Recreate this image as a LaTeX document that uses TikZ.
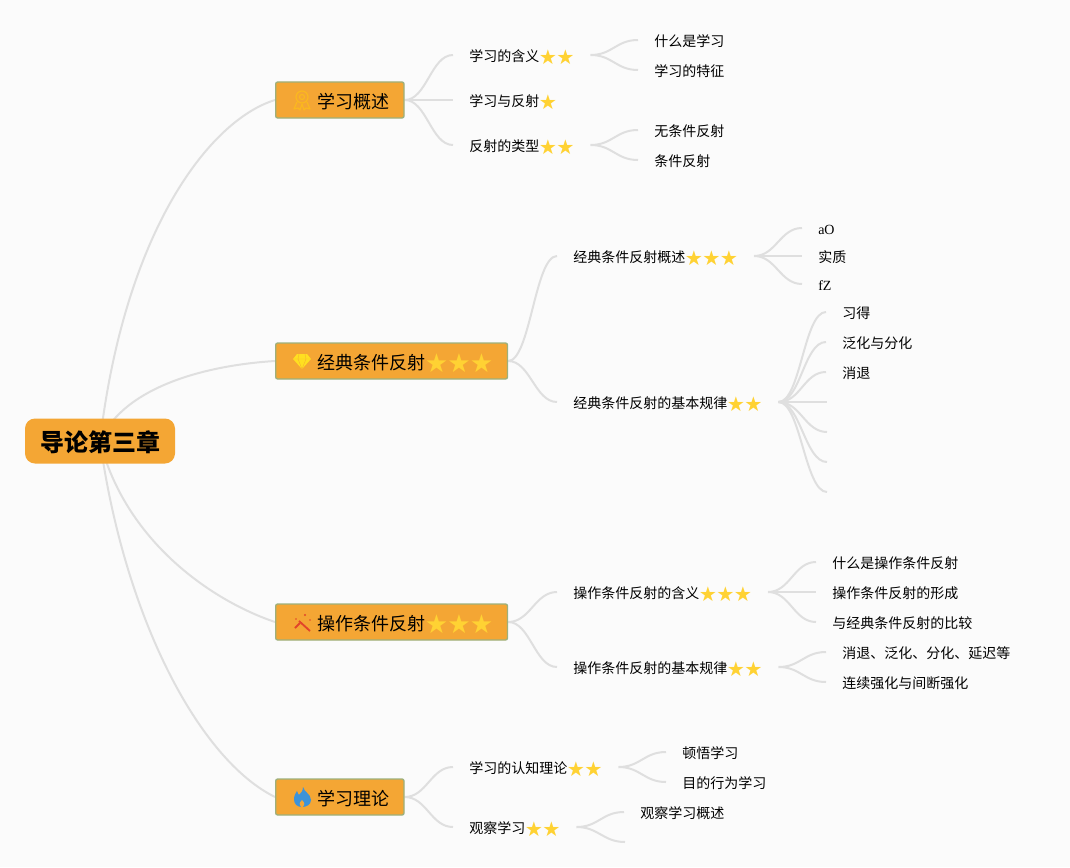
\documentclass[tikz,border=0pt]{standalone}
\usepackage{fontspec}
\setmainfont{Liberation Serif}
\newfontfamily\cjk{Noto Sans CJK SC}
\newfontfamily\starfont[Scale=1.45]{DejaVu Sans}
\usetikzlibrary{backgrounds}
\definecolor{pagebg}{HTML}{FBFBFB}
\definecolor{boxfill}{HTML}{F4A634}
\definecolor{boxline}{HTML}{9DB07C}
\definecolor{linegray}{HTML}{DFDFDF}
\definecolor{stargold}{HTML}{FFD233}
\definecolor{medalgold}{HTML}{FBB81E}
\definecolor{gemyellow}{HTML}{FFDF20}
\definecolor{wandred}{HTML}{E2452A}
\definecolor{fireblue}{HTML}{3D93D9}
\newcommand{\mystars}[1]{\foreach \n in {1,...,#1}{\makebox[1.25em]{\smash{\raisebox{-.17em}{\textcolor{stargold}{\starfont ★}}}}}}
\tikzset{
    root/.style={fill=boxfill, rounded corners=7.5pt, minimum width=112.5pt, minimum height=33.75pt, inner sep=0pt, text height=16pt, text depth=0pt, font=\cjk\fontsize{18}{18}\selectfont\bfseries},
    topic/.style={anchor=west, draw=boxline, line width=1pt, fill=boxfill, rounded corners=1.5pt, minimum height=27pt, inner xsep=11pt, inner ysep=0pt, text height=12.4pt, text depth=0pt, font=\cjk\fontsize{13.5}{13.5}\selectfont, execute at begin node=\hspace*{20.25pt}},
    leaf/.style={anchor=west, inner xsep=12pt, inner ysep=0pt, text height=10.2pt, text depth=0pt, font=\cjk\fontsize{10.5}{10.5}\selectfont},
    branch/.style={draw=linegray, line width=1.5pt, to path={.. controls +(22,0) and +(-22,0) .. (\tikztotarget)}},
    trunk/.style={draw=linegray, line width=1.5pt},
    medal/.pic={
        \draw[medalgold, line width=.9pt] (0,-3) circle (6);
        \draw[medalgold, line width=.9pt] (0,-3) circle (2.5);
        \draw[medalgold, line width=.9pt, line join=round] (-5,2) -- (-8,9) -- (-4,8) -- (-2,10) -- (0,4) -- (2,10) -- (4,8) -- (8,9) -- (5,2);
    },
    gem/.pic={
        \fill[gemyellow] (-5,-7) -- (5,-7) -- (9,-2) -- (0,8) -- (-9,-2) -- cycle;
        \draw[boxfill, line width=.35pt, opacity=.7] (-9,-2) -- (9,-2) (-3,-7) -- (-4,-2) -- (0,8) -- (4,-2) -- (3,-7);
    },
    wand/.pic={
        \draw[wandred, line width=1.4pt] (-7,5) -- (-2,0);
        \draw[wandred, line width=1.4pt] (-3,-2) -- (8,8);
        \fill[wandred] (3,-8) circle (1.1) (-6,-4) circle (.8) (8,-3) circle (.8);
    },
    fire/.pic={
        \fill[fireblue] (1,-10) .. controls (2,-5) and (9,-3) .. (9,3) .. controls (9,8) and (4,10) .. (0,10) .. controls (-5,10) and (-8,7) .. (-8,2) .. controls (-8,-2) and (-6,-4) .. (-5,-6) .. controls (-4,-4) and (-4,-3) .. (-3,-2) .. controls (-1,-4) and (1,-6) .. (1,-10) -- cycle;
        \fill[boxfill] (-1,10) .. controls (-3,8) and (-3,6) .. (0,3) .. controls (3,6) and (3,8) .. (1,10) -- cycle;
    }
}
\begin{document}
\begin{tikzpicture}[x=.75pt, y=-.75pt]
    \node[root] (rootbox) at (100,441) {导论第三章};
    % topics
    \node[topic] (gaishu) at (275,100) {学习概述};
    \node[topic] (jingdian) at (275,361) {经典条件反射\mystars{3}};
    \node[topic] (caozuo) at (275,622) {操作条件反射\mystars{3}};
    \node[topic] (lilun) at (275,797) {学习理论};
    \pic at (302,100) {medal};
    \pic at (302,361) {gem};
    \pic at (302,623) {wand};
    \pic at (302,797) {fire};
    % second level
    \node[leaf] (hanyi) at (453,55) {学习的含义\mystars{2}};
    \node[leaf] (fanshe) at (453,100) {学习与反射\mystars{1}};
    \node[leaf] (leixing) at (453,145) {反射的类型\mystars{2}};
    \node[leaf] (jdgs) at (557,256) {经典条件反射概述\mystars{3}};
    \node[leaf] (jdgl) at (557,402) {经典条件反射的基本规律\mystars{2}};
    \node[leaf] (czhy) at (557,592) {操作条件反射的含义\mystars{3}};
    \node[leaf] (czgl) at (557,667) {操作条件反射的基本规律\mystars{2}};
    \node[leaf] (renzhi) at (453,767) {学习的认知理论\mystars{2}};
    \node[leaf] (guancha) at (453,827) {观察学习\mystars{2}};
    % third level
    \node[leaf] (hy1) at (638,40) {什么是学习};
    \node[leaf] (hy2) at (638,70) {学习的特征};
    \node[leaf] (lx1) at (638,130) {无条件反射};
    \node[leaf] (lx2) at (638,160) {条件反射};
    \node[leaf] (gs1) at (802,228) {\rmfamily aO};
    \node[leaf] (gs2) at (802,256) {实质};
    \node[leaf] (gs3) at (802,284) {\rmfamily fZ};
    \node[leaf] (gl1) at (826,312) {习得};
    \node[leaf] (gl2) at (826,342) {泛化与分化};
    \node[leaf] (gl3) at (826,372) {消退};
    \node[leaf] (gl4) at (827,402) {};
    \node[leaf] (gl5) at (827,432) {};
    \node[leaf] (gl6) at (827,462) {};
    \node[leaf] (gl7) at (827,492) {};
    \node[leaf] (cz1) at (816,562) {什么是操作条件反射};
    \node[leaf] (cz2) at (816,592) {操作条件反射的形成};
    \node[leaf] (cz3) at (816,622) {与经典条件反射的比较};
    \node[leaf] (cg1) at (826,652) {消退、泛化、分化、延迟等};
    \node[leaf] (cg2) at (826,682) {连续强化与间断强化};
    \node[leaf] (rz1) at (666,752) {顿悟学习};
    \node[leaf] (rz2) at (666,782) {目的行为学习};
    \node[leaf] (gc1) at (624,812) {观察学习概述};
    \node[leaf] (gc2) at (625,842) {};
    % connectors
    \begin{scope}[on background layer]
        \fill[pagebg] (0,0) rectangle (1070,867);
        \draw[trunk] (rootbox.center) .. controls +(25,-211) and +(-65,20) .. (gaishu.west);
        \draw[trunk] (rootbox.center) .. controls +(25,-56) and +(-65,4) .. (jingdian.west);
        \draw[trunk] (rootbox.center) .. controls +(25,99) and +(-65,-22) .. (caozuo.west);
        \draw[trunk] (rootbox.center) .. controls +(25,179) and +(-75,-37) .. (lilun.west);
        \foreach \from/\to in {gaishu/hanyi, gaishu/fanshe, gaishu/leixing, jingdian/jdgs, jingdian/jdgl,
            caozuo/czhy, caozuo/czgl, lilun/renzhi, lilun/guancha, hanyi/hy1, hanyi/hy2, leixing/lx1, leixing/lx2,
            jdgs/gs1, jdgs/gs2, jdgs/gs3, jdgl/gl1, jdgl/gl2, jdgl/gl3, jdgl/gl4, jdgl/gl5, jdgl/gl6, jdgl/gl7,
            czhy/cz1, czhy/cz2, czhy/cz3, czgl/cg1, czgl/cg2, renzhi/rz1, renzhi/rz2, guancha/gc1, guancha/gc2}
            \draw[branch] (\from.east) to (\to.west);
    \end{scope}
\end{tikzpicture}
\end{document}
